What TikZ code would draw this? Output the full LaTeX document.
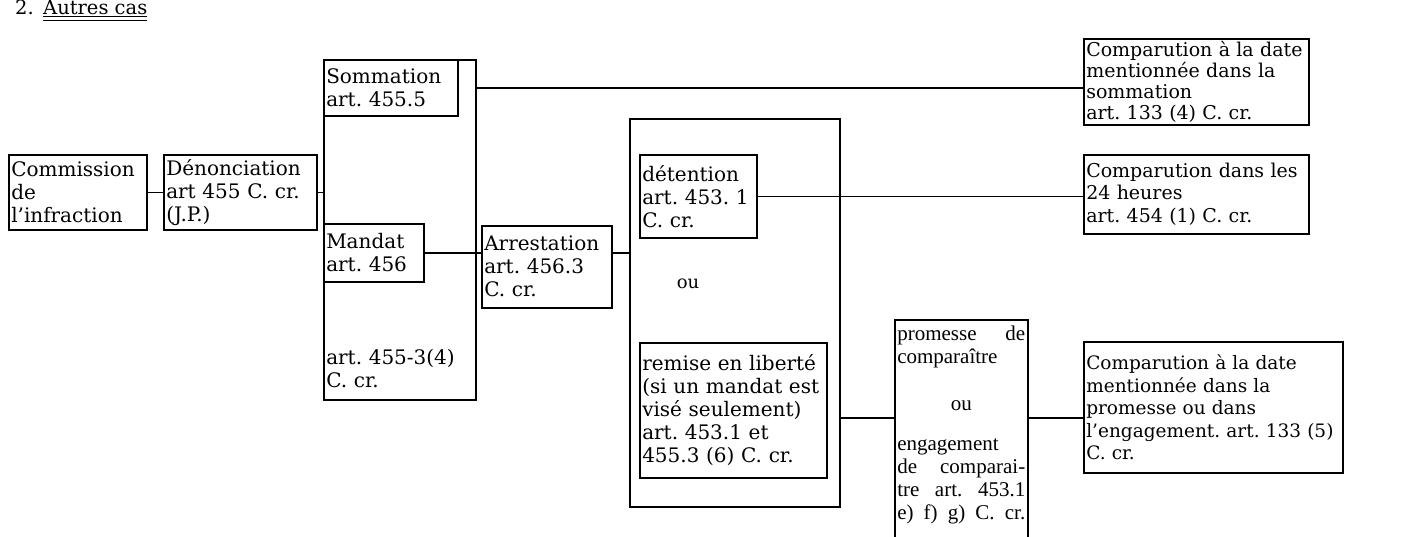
\documentclass[tikz,border=0pt]{standalone}
\usepackage{fontspec}
\setmainfont{DejaVu Serif}
\newfontfamily\timesfont{Liberation Serif}
\newcommand{\gros}{\fontsize{20pt}{23pt}\selectfont}
\newcommand{\moyen}{\fontsize{19pt}{22.5pt}\selectfont}
\newcommand{\serre}{\fontsize{19pt}{21pt}\selectfont}
\newcommand{\promfont}{\timesfont\fontsize{21pt}{23pt}\selectfont}

\tikzset{
  boite/.style={draw, line width=1.5pt, anchor=north west, inner sep=2.5pt, align=left, font=\gros},
  cadre/.style={draw, line width=1.5pt, anchor=north west, inner sep=0pt},
  lien/.style={line width=1.5pt},
}

\begin{document}
\begin{tikzpicture}[x=1pt, y=-1pt]
 \useasboundingbox (0,0) rectangle (1406,536);
 \clip (0,0) rectangle (1406,536);
 % titre
 \node[anchor=base west, inner sep=0pt, font=\fontsize{19.5pt}{21pt}\selectfont] (numero) at (15,14.5) {2.};
 \node[anchor=base west, inner sep=0pt, font=\fontsize{19.5pt}{21pt}\selectfont] (soustitre) at (43,14.5) {Autres cas};
 \draw[double, double distance=2.5pt, line width=0.8pt] ([yshift=-4pt]soustitre.base west) -- ([yshift=-4pt]soustitre.base east);
 % colonne de gauche
 \node[boite, minimum width=138pt, minimum height=75pt, text width=133pt] (commission) at (8,154) {Commission\\de\\l'infraction};
 \node[boite, minimum width=153pt, minimum height=75pt, text width=148pt] (denonciation) at (163,154) {Dénonciation\\art~455~C.~cr.\\(J.P.)};
 % premier cadre
 \node[cadre, minimum width=152pt, minimum height=340pt] (cadreA) at (323,59) {};
 \node[boite, minimum width=134pt, minimum height=56pt, text width=129pt] (sommation) at (323,59) {Sommation\\art.~455.5};
 \node[boite, minimum width=100pt, minimum height=58pt, text width=95pt] (mandat) at (323,223) {Mandat\\art.~456};
 \node[boite, draw=none, text width=140pt] (artA) at (323,346) {art.~455-3(4)\\C.~cr.};
 \node[boite, minimum width=130pt, minimum height=82pt, text width=125pt] (arrestation) at (481,225) {Arrestation\\art.~456.3\\C.~cr.};
 % second cadre
 \node[cadre, minimum width=210pt, minimum height=388pt] (cadreB) at (629,118) {};
 \node[boite, minimum width=117pt, minimum height=83pt, text width=112pt] (detention) at (639,154) {détention\\art.~453.~1\\C.~cr.};
 \node[anchor=base, font=\fontsize{18pt}{20pt}\selectfont] (ou) at (688,288) {ou};
 \node[boite, minimum width=187pt, minimum height=135pt, text width=182pt] (remise) at (639,342) {remise en liberté\\(si un mandat est\\visé seulement)\\art.~453.1 et\\455.3~(6)~C.~cr.};
 \node[boite, font=\promfont, text width=128pt, inner ysep=6pt] (promesse) at (894,319) {promesse\hfill de\\comparaître\\[24pt]\hfill ou\hfill\null\\[17pt]engagement\\de\hfill comparai-\\tre\hfill art.\hfill 453.1\\e)\hfill f)\hfill g)\hfill C.\hfill cr.\\\mbox{}};
 % comparutions
 \node[boite, font=\serre, minimum width=225pt, minimum height=84pt, text width=220pt] (finA) at (1083,38) {Comparution à la date\\mentionnée dans la\\sommation\\art.~133~(4)~C.~cr.};
 \node[boite, font=\moyen, minimum width=225pt, minimum height=79pt, text width=220pt] (finB) at (1083,154) {Comparution dans les\\24 heures\\art.~454~(1)~C.~cr.};
 \node[boite, font=\fontsize{18.5pt}{22.5pt}\selectfont, minimum width=259pt, minimum height=131pt, text width=254pt] (finC) at (1083,341) {Comparution à la date\\mentionnée dans la\\promesse ou dans\\l'engagement.~art.~133~(5)\\C.~cr.};
 % liens
 \draw[lien] (commission) -- (denonciation);
 \draw[lien] (denonciation) -- (denonciation -| cadreA.west);
 \draw[lien] (sommation.east -| cadreA.east) -- (sommation.east -| finA.west);
 \draw[lien] (mandat) -- (mandat -| arrestation.west);
 \draw[lien] (arrestation.east |- mandat) -- (mandat -| cadreB.west);
 \draw[lien] (detention) -- (detention -| finB.west);
 \coordinate (niveau) at (0,418);
 \draw[lien] (cadreB.east |- niveau) -- (promesse.west |- niveau);
 \draw[lien] (promesse.east |- niveau) -- (finC.west |- niveau);
\end{tikzpicture}
\end{document}
